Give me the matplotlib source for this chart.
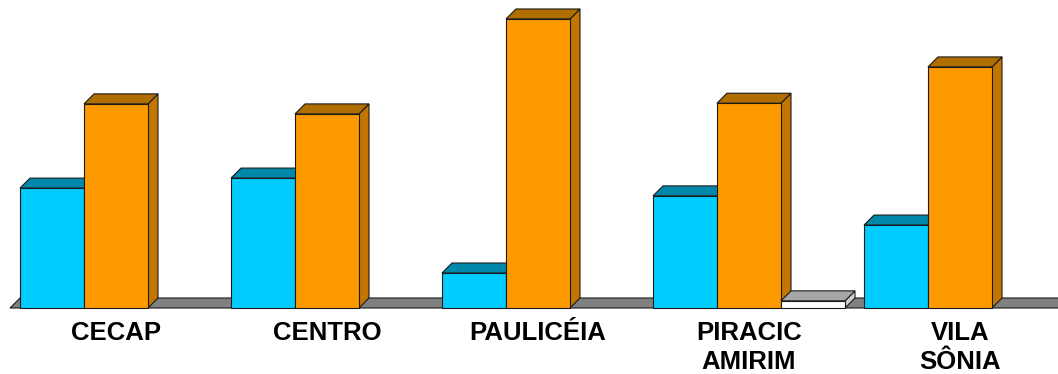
import numpy as np
import matplotlib.pyplot as plt
from matplotlib.patches import Polygon

# percentages per neighbourhood (each group sums to ~100)
categories = ['CECAP', 'CENTRO', 'PAULICÉIA', 'PIRACIC\nAMIRIM', 'VILA\nSÔNIA']
serie_a = [37.0, 40.1, 10.8, 34.6, 25.6]
serie_b = [63.0, 59.9, 89.2, 63.2, 74.4]
serie_c = [0.0, 0.0, 0.0, 2.2, 0.0]

series = [serie_a, serie_b, serie_c]
# front, top, side colours for each series
colors = [
    ('#00CCFF', '#0088AA', '#0099BB'),
    ('#FF9900', '#B06E00', '#C27500'),
    ('#FFFFFF', '#A6A6A6', '#D0D0D0'),
]

fig = plt.figure(figsize=(10.58, 3.74), dpi=100)
ax = fig.add_axes([0, 0, 1, 1])
ax.set_xlim(-0.5498, 4.4645)
ax.set_ylim(-20.37, 95.06)
ax.axis('off')

# 3d depth converted from pixels to data units
depth_px = 10
dx = depth_px * (4.4645 + 0.5498) / 1058
dy = depth_px * (95.06 + 20.37) / 374
w = 64 / 211
edge = '#1a1a1a'
lw = 0.8

x = np.arange(len(categories))

# floor
fx0 = x[0] - 1.5 * w - dx
floor = Polygon([(fx0, 0), (5.0, 0), (5.0 + dx, dy), (fx0 + dx, dy)],
                closed=True, facecolor='#808080', edgecolor=edge, lw=lw, zorder=1)
ax.add_patch(floor)

z = 2
for i in x:
    for k, vals in enumerate(series):
        v = vals[i]
        if v <= 0:
            continue
        left = i + (k - 1.5) * w
        right = left + w
        front_c, top_c, side_c = colors[k]
        side = Polygon([(right, 0), (right + dx, dy), (right + dx, v + dy), (right, v)],
                       closed=True, facecolor=side_c, edgecolor=edge, lw=lw, zorder=z)
        top = Polygon([(left, v), (right, v), (right + dx, v + dy), (left + dx, v + dy)],
                      closed=True, facecolor=top_c, edgecolor=edge, lw=lw, zorder=z)
        ax.add_patch(side)
        ax.add_patch(top)
        ax.bar(left, v, width=w, align='edge', color=front_c, edgecolor=edge,
               linewidth=lw, zorder=z + 0.5)
        z += 1

for i, name in zip(x, categories):
    ax.text(i, -3.9, name, ha='center', va='top', fontsize=18.5, fontweight='bold',
            family='Liberation Sans', linespacing=1.3)

fig.savefig('out.png', dpi=100)
